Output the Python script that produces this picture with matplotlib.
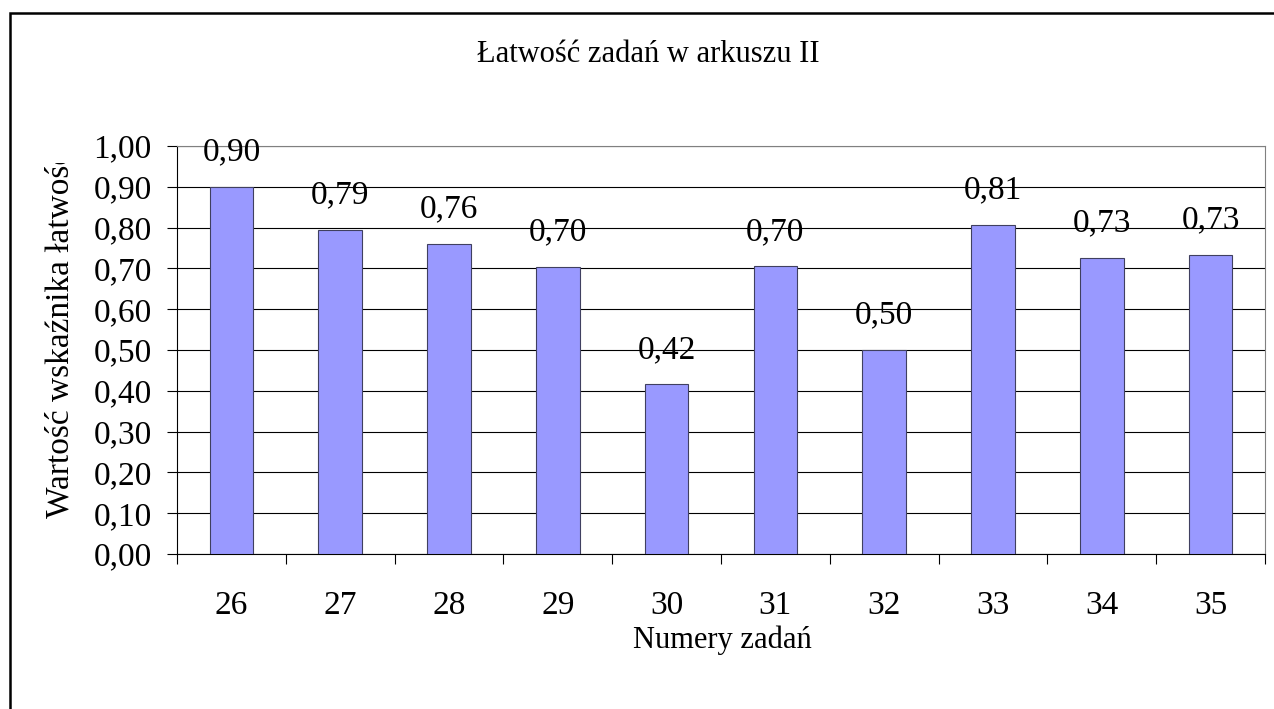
import matplotlib
matplotlib.use('Agg')
import matplotlib.pyplot as plt
from matplotlib.patches import Rectangle
from matplotlib.transforms import Bbox

plt.rcParams['font.family'] = ['Liberation Serif', 'DejaVu Serif']

# dane
zadania = ['26', '27', '28', '29', '30', '31', '32', '33', '34', '35']
latwosc = [0.900, 0.794, 0.760, 0.704, 0.416, 0.705, 0.500, 0.806, 0.726, 0.734]
yticks = [0.0, 0.1, 0.2, 0.3, 0.4, 0.5, 0.6, 0.7, 0.8, 0.9, 1.0]


def pl(v):
    return f'{v:.2f}'.replace('.', ',')


W, H = 1274, 709
fs = 24
fig = plt.figure(figsize=(W / 100, H / 100), dpi=100)
ax = fig.add_axes([177 / W, 1 - 554 / H, (1265 - 177) / W, (554 - 146) / H])

x = list(range(len(zadania)))
ax.bar(x, latwosc, width=0.4, color='#9999FF', edgecolor='#404060',
       linewidth=0.8, zorder=3)

ax.set_xlim(-0.5, len(zadania) - 0.5)
ax.set_ylim(0, 1)
ax.set_yticks(yticks)
ax.set_yticklabels([pl(v) for v in yticks])
ax.yaxis.grid(True, color='black', linewidth=0.8)
ax.set_axisbelow(True)

ax.set_xticks(x)
ax.set_xticklabels(zadania)
ax.set_xticks([i - 0.5 for i in range(len(zadania) + 1)], minor=True)
ax.tick_params(axis='x', which='major', length=0, pad=26, labelsize=fs)
ax.tick_params(axis='x', which='minor', length=7.2, width=0.8, direction='out')
ax.tick_params(axis='y', length=7.2, width=0.8, pad=11, labelsize=fs)

for s in ['top', 'right']:
    ax.spines[s].set_color('#808080')
    ax.spines[s].set_linewidth(0.8)
for s in ['left', 'bottom']:
    ax.spines[s].set_color('black')
    ax.spines[s].set_linewidth(0.8)

for i, v in zip(x, latwosc):
    ax.annotate(pl(v), (i, v), xytext=(0, 19), textcoords='offset points',
                ha='center', va='baseline', fontsize=fs, zorder=4)

fig.text(648 / W, 1 - 55 / H, 'Łatwość zadań w arkuszu II',
         ha='center', va='center', fontsize=22)
fig.text(722 / W, 1 - 640 / H, 'Numery zadań',
         ha='center', va='center', fontsize=22)

yl = fig.text(60 / W, 1 - 518 / H, 'Wartość wskaźnika łatwości',
              rotation=90, ha='center', va='bottom', fontsize=fs)
yl.set_clip_box(Bbox([[0, 0], [W, H - 163]]))
yl.set_clip_on(True)

fig.add_artist(Rectangle((10 / W, -0.1), 1.2, 1 - 13 / H + 0.1,
                         transform=fig.transFigure, fill=False,
                         linewidth=1.8, edgecolor='black'))

fig.savefig('out.png', dpi=100)
